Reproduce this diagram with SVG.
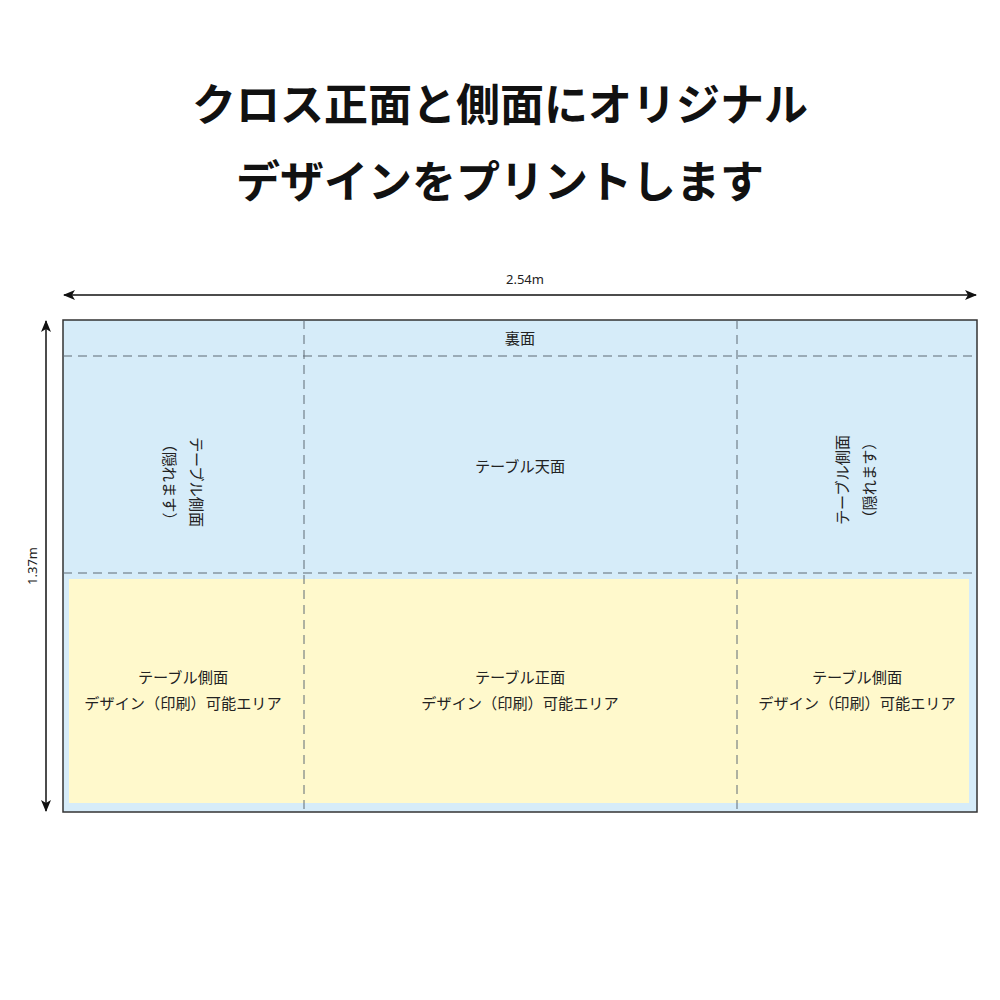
<svg xmlns="http://www.w3.org/2000/svg" width="1000" height="1000" viewBox="0 0 1000 1000">
<style>
.title{font-family:"Noto Sans CJK JP","Noto Sans",sans-serif;font-weight:bold;font-size:44px;fill:#111;text-anchor:middle}
.lbl{font-family:"Noto Sans CJK JP","Noto Sans",sans-serif;font-size:15.2px;fill:#222;text-anchor:middle}
.dim{font-family:"Noto Sans","Noto Sans CJK JP",sans-serif;font-size:13px;fill:#222;text-anchor:middle}
.dash{stroke:#5f6a75;stroke-width:1;stroke-dasharray:9 6;fill:none}
.dimline{stroke:#111;stroke-width:1.5;fill:none}
</style>
<defs>
<marker id="arr" viewBox="0 0 12 10" refX="11" refY="5" markerWidth="12" markerHeight="10" markerUnits="userSpaceOnUse" orient="auto-start-reverse">
<path d="M0,0 L12,5 L0,10 L3,5 z" fill="#111"/>
</marker>
</defs>
<rect width="1000" height="1000" fill="#fff"/>
<g id="title">
<text class="title" x="500" y="121">クロス正面と側面にオリジナル</text>
<text class="title" x="500" y="198">デザインをプリントします</text>
</g>
<g id="cloth">
<rect x="63" y="320" width="914" height="492" fill="#d6ecf9" stroke="#333" stroke-width="1.5"/>
<rect x="69" y="579" width="900" height="224" fill="#fff9cc"/>
</g>
<g id="connectors">
<line class="dash" x1="63" y1="356" x2="977" y2="356"/>
<line class="dash" x1="63" y1="573" x2="977" y2="573"/>
<line class="dash" x1="304" y1="320" x2="304" y2="812"/>
<line class="dash" x1="737" y1="320" x2="737" y2="812"/>
<line class="dimline" x1="64" y1="295" x2="976" y2="295" marker-start="url(#arr)" marker-end="url(#arr)"/>
<line class="dimline" x1="46" y1="321" x2="46" y2="811" marker-start="url(#arr)" marker-end="url(#arr)"/>
</g>
<g id="dim-width"><text class="dim" x="525" y="284">2.54m</text></g>
<g id="dim-height"><text class="dim" transform="translate(37,566) rotate(-90)">1.37m</text></g>
<g id="back"><text class="lbl" x="520" y="344">裏面</text></g>
<g id="top"><text class="lbl" x="520" y="472">テーブル天面</text></g>
<g id="left-hidden">
<g transform="translate(183,482) rotate(90)">
<text class="lbl" x="0" y="-8">テーブル側面</text>
<text class="lbl" x="0" y="19">（隠れます）</text>
</g>
</g>
<g id="right-hidden">
<g transform="translate(857,480) rotate(-90)">
<text class="lbl" x="0" y="-9">テーブル側面</text>
<text class="lbl" x="0" y="18">（隠れます）</text>
</g>
</g>
<g id="left-side">
<text class="lbl" x="183" y="683">テーブル側面</text>
<text class="lbl" x="183" y="709">デザイン（印刷）可能エリア</text>
</g>
<g id="front">
<text class="lbl" x="520" y="683">テーブル正面</text>
<text class="lbl" x="520" y="709">デザイン（印刷）可能エリア</text>
</g>
<g id="right-side">
<text class="lbl" x="857" y="683">テーブル側面</text>
<text class="lbl" x="857" y="709">デザイン（印刷）可能エリア</text>
</g>
</svg>
